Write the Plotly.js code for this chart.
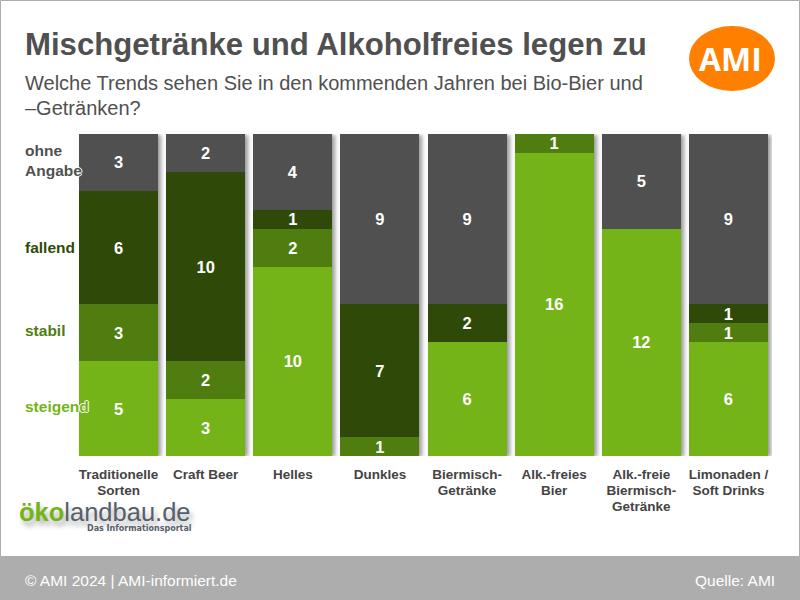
<!DOCTYPE html>
<html><head><meta charset="utf-8">
<script src="https://cdn.plot.ly/plotly-3.0.1.min.js"></script>
<style>
html,body{margin:0;padding:0;background:#fff}
#c{width:800px;height:600px}
.barlayer{filter:drop-shadow(3px 1px 2px rgba(0,0,0,.4))}
</style></head><body><div id="c"></div>
<script>
const categories=["Traditionelle<br>Sorten","Craft Beer","Helles","Dunkles","Biermisch-<br>Getränke","Alk.-freies<br>Bier","Alk.-freie<br>Biermisch-<br>Getränke","Limonaden /<br>Soft Drinks"];
const steigend=[5,3,10,0,6,16,12,6];
const stabil=[3,2,2,1,0,1,0,1];
const fallend=[6,10,1,7,2,0,0,1];
const ohneAngabe=[3,2,4,9,9,0,5,9];
const W=800,H=600,L=75,R=28,T=134,B=144;
const px=x=>(x-L)/(W-L-R), py=y=>(H-B-y)/(H-T-B);
const sans='"Liberation Sans", Arial, sans-serif';
const open='"Open Sans", sans-serif';
const mk=(name,v,color)=>({type:'bar',name,x:categories,y:v,marker:{color,line:{width:0}},
  text:v.map(n=>n?String(n):''),textposition:'inside',insidetextanchor:'middle',textangle:0,constraintext:'none',
  textfont:{family:sans,size:16.5,color:'#fff',weight:700},hoverinfo:'x+y'});
const data=[mk('steigend',steigend,'#74b419'),mk('stabil',stabil,'#4f7d10'),mk('fallend',fallend,'#2f4a08'),mk('ohne Angabe',ohneAngabe,'#505050')];
const halo='1px 0 0 #fff,-1px 0 0 #fff,0 1px 0 #fff,0 -1px 0 #fff';
const note=(text,x,y,font,extra)=>Object.assign({text,xref:'paper',yref:'paper',x:px(x),y:py(y),xanchor:'left',yanchor:'middle',showarrow:false,align:'left',font,borderpad:0,borderwidth:0},extra||{});
const annotations=[
 note('Mischgetränke und Alkoholfreies legen zu',25,44,{family:sans,size:31.15,color:'#505050',weight:700}),
 note('Welche Trends sehen Sie in den kommenden Jahren bei Bio-Bier und',25,83,{family:sans,size:20,color:'#505050'}),
 note('–Getränken?',25,108,{family:sans,size:20,color:'#505050'}),
 note('ohne<br>Angabe',25,160,{family:sans,size:15.5,color:'#505050',weight:700,shadow:halo}),
 note('fallend',25,247,{family:sans,size:15.5,color:'#2f4a08',weight:700,shadow:halo}),
 note('stabil',25,330,{family:sans,size:15.5,color:'#4f7d10',weight:700,shadow:halo}),
 note('steigend',25,406,{family:sans,size:15.5,color:'#74b419',weight:700,shadow:halo}),
 note('AMI',730,58,{family:open,size:32,color:'#fff',weight:700},{xanchor:'center'}),
 note('<span style="color:#74b419;font-weight:700">öko</span><span style="color:#55606a">landbau.de</span>',19,512,{family:sans,size:25.5,color:'#55606a',shadow:'3px 5px 5px rgba(0,0,0,.3)'}),
 note('Das Informationsportal',87,528,{family:'"DejaVu Sans", sans-serif',size:8,color:'#55606a',weight:700}),
 note('© AMI 2024 | AMI-informiert.de',25,580,{family:sans,size:15.5,color:'#fff'}),
 note('Quelle: AMI',775,580,{family:sans,size:15.5,color:'#fff'},{xanchor:'right'})
];
const shapes=[
 {type:'rect',xref:'paper',yref:'paper',x0:px(0),x1:px(800),y0:py(556),y1:py(600),fillcolor:'#adadad',line:{width:0},layer:'below'},
 {type:'rect',xref:'paper',yref:'paper',x0:px(0.5),x1:px(799.5),y0:py(0.5),y1:py(600),fillcolor:'rgba(0,0,0,0)',line:{width:1,color:'#adadad'},layer:'below'},
 {type:'circle',xref:'paper',yref:'paper',x0:px(689),x1:px(775),y0:py(26),y1:py(91),fillcolor:'#ff7f00',line:{width:0},layer:'below'}
];
const layout={width:W,height:H,margin:{l:L,r:R,t:T,b:B,pad:0},barmode:'stack',bargap:0.092,showlegend:false,
 paper_bgcolor:'#fff',plot_bgcolor:'rgba(0,0,0,0)',
 xaxis:{type:'category',tickfont:{family:sans,size:13.5,color:'#444444',weight:700},showgrid:false,zeroline:false,showline:false,ticks:'outside',ticklen:6,tickcolor:'rgba(0,0,0,0)',tickangle:0,automargin:false},
 yaxis:{range:[0,17],visible:false,fixedrange:true},
 annotations,shapes};
Plotly.newPlot('c',data,layout,{displayModeBar:false,staticPlot:true}).then(()=>{
  const bl=document.querySelector('.barlayer');
  const g=document.createElementNS('http://www.w3.org/2000/svg','g');
  bl.parentNode.insertBefore(g,bl.nextSibling);
  bl.querySelectorAll('text').forEach(t=>g.appendChild(t));
  document.querySelectorAll('.xtick tspan.line').forEach(t=>{
    const d=parseFloat(t.getAttribute('dy'));
    if(d) t.setAttribute('dy',(d*1.18/1.3)+'em');
  });
});
</script></body></html>
